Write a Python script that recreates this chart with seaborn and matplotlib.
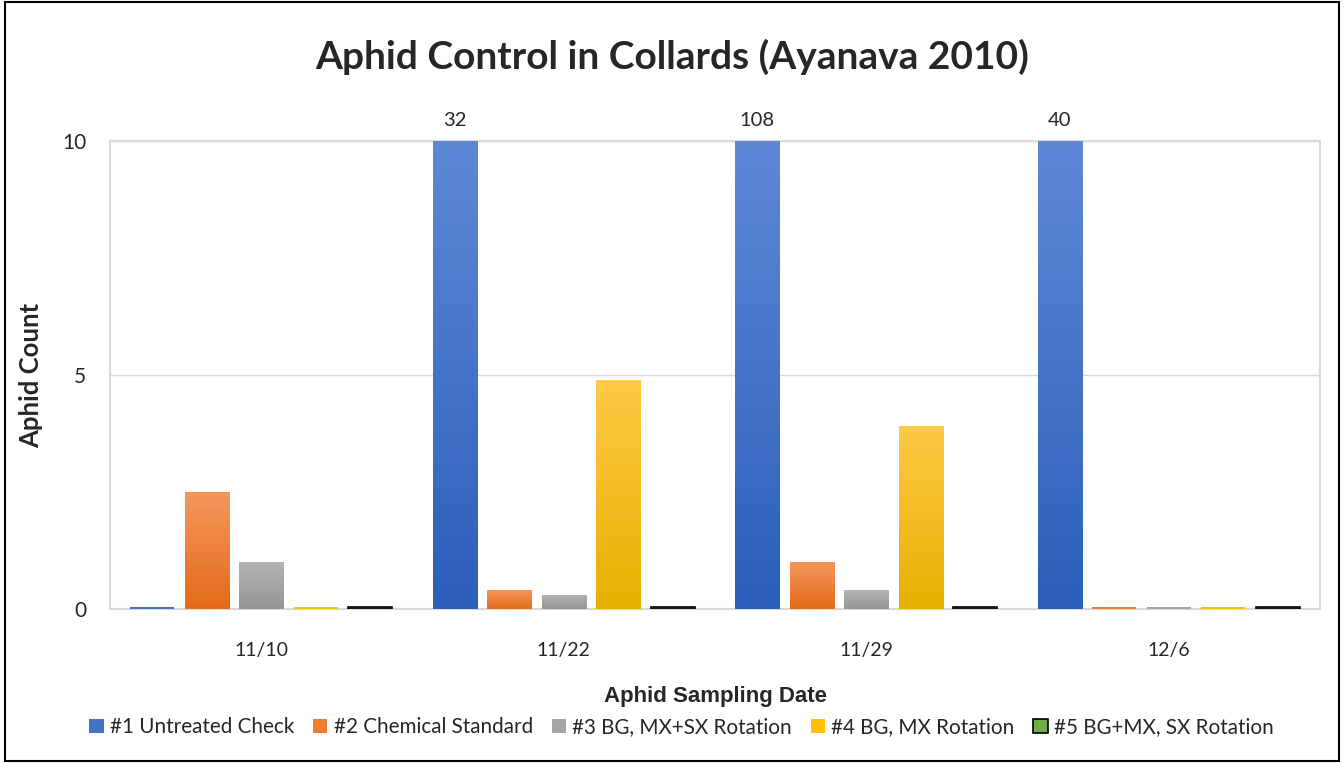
import numpy as np
import pandas as pd
import matplotlib
matplotlib.use("Agg")
import matplotlib.pyplot as plt
import matplotlib.colors as mcolors
from matplotlib.patches import Rectangle
import seaborn as sns

dates = ["11/10", "11/22", "11/29", "12/6"]
treatments = ["#1 Untreated Check", "#2 Chemical Standard", "#3 BG, MX+SX Rotation",
              "#4 BG, MX Rotation", "#5 BG+MX, SX Rotation"]
untreated = [0.05, 32, 108, 40]
chemical = [2.5, 0.4, 1.0, 0.05]
bg_mx_sx = [1.0, 0.3, 0.4, 0.05]
bg_mx = [0.05, 4.9, 3.9, 0.05]
bgmx_sx = [0.05, 0.05, 0.05, 0.05]

series = [untreated, chemical, bg_mx_sx, bg_mx, bgmx_sx]
rows = []
for t, vals in zip(treatments, series):
    for d, v in zip(dates, vals):
        rows.append({"Date": d, "Treatment": t, "Count": v})
df = pd.DataFrame(rows)

base_colors = ["#4472C4", "#ED7D31", "#A5A5A5", "#FFC000", "#70AD47"]
top_colors = ["#5E88D6", "#F4975E", "#B4B4B4", "#FFCA45", "#85C060"]
bot_colors = ["#2C5FBA", "#E46A18", "#959595", "#E6B000", "#5F9A3A"]
ymax = 10

sns.set_style("white")
plt.rcParams["font.family"] = ["Lato", "DejaVu Sans"]

fig = plt.figure(figsize=(13.44, 7.63), dpi=100)
ax = fig.add_axes([110 / 1344, 1 - 609 / 763, 1210 / 1344, 468 / 763])

sns.barplot(data=df, x="Date", y="Count", hue="Treatment",
            palette=base_colors, width=0.9, ax=ax, legend=False, saturation=1)

# shrink bars and paint vertical gradients
for i, cont in enumerate(ax.containers):
    cmap = mcolors.LinearSegmentedColormap.from_list("g", [bot_colors[i], top_colors[i]])
    for p in cont:
        w = p.get_width()
        x0 = p.get_x() + w * 0.095
        nw = w * 0.81
        p.set_x(x0)
        p.set_width(nw)
        p.set_zorder(3)
        h = p.get_height()
        vis = min(h, ymax)
        if i == 4:
            p.set_edgecolor("black")
            p.set_linewidth(1.2)
            continue
        if vis < 0.2:
            p.set_facecolor(base_colors[i])
            p.set_edgecolor("none")
            continue
        p.set_facecolor("none")
        p.set_edgecolor("none")
        grad = np.linspace(0, 1, 256).reshape(-1, 1)
        im = ax.imshow(grad, cmap=cmap, origin="lower", aspect="auto",
                       extent=[x0, x0 + nw, 0, vis], zorder=3)
        im.set_clip_path(p)
ax.set_xlim(-0.5, len(dates) - 0.5)
ax.set_ylim(0, ymax)

# labels for bars exceeding the axis
for j, v in enumerate(untreated):
    if v > ymax:
        p = ax.containers[0][j]
        ax.text(p.get_x() + p.get_width() / 2, ymax + 0.25, f"{v:g}", ha="center",
                va="bottom", fontsize=14.5, clip_on=False)

ax.set_yticks([0, 5, 10])
ax.yaxis.grid(True, color="#D9D9D9", linewidth=1)
ax.set_axisbelow(True)
for s in ax.spines.values():
    s.set_color("#D9D9D9")
    s.set_linewidth(1.5)
ax.tick_params(axis="y", length=0, labelsize=15, pad=17)
ax.tick_params(axis="x", which="major", length=0, labelsize=14, pad=24)
ax.set_xticks(np.arange(-0.5, len(dates), 1), minor=True)
ax.tick_params(axis="x", which="minor", length=12, color="#D9D9D9", width=1.5)

ax.set_xlabel("Aphid Sampling Date", fontsize=16, fontweight="bold",
              fontfamily="Liberation Sans", labelpad=19)
ax.set_ylabel("Aphid Count", fontsize=18.5, fontweight="bold", labelpad=14)
fig.suptitle("Aphid Control in Collards (Ayanava 2010)", fontsize=28,
             fontweight="bold", y=1 - 57 / 763, va="center")

handles = [Rectangle((0, 0), 1, 1, facecolor=c, edgecolor=("black" if k == 4 else "none"),
                     linewidth=1.2) for k, c in enumerate(base_colors)]
fig.legend(handles, treatments, loc="center", bbox_to_anchor=(0.507, 1 - 727 / 763),
           ncol=5, frameon=False, fontsize=14.9, handlelength=0.7, handleheight=0.7,
           handletextpad=0.3, columnspacing=0.9)

fig.patches.append(Rectangle((0.004, 0.003), 0.992, 0.994, transform=fig.transFigure,
                             fill=False, edgecolor="black", linewidth=1.5))

fig.savefig("out.png", dpi=100)
